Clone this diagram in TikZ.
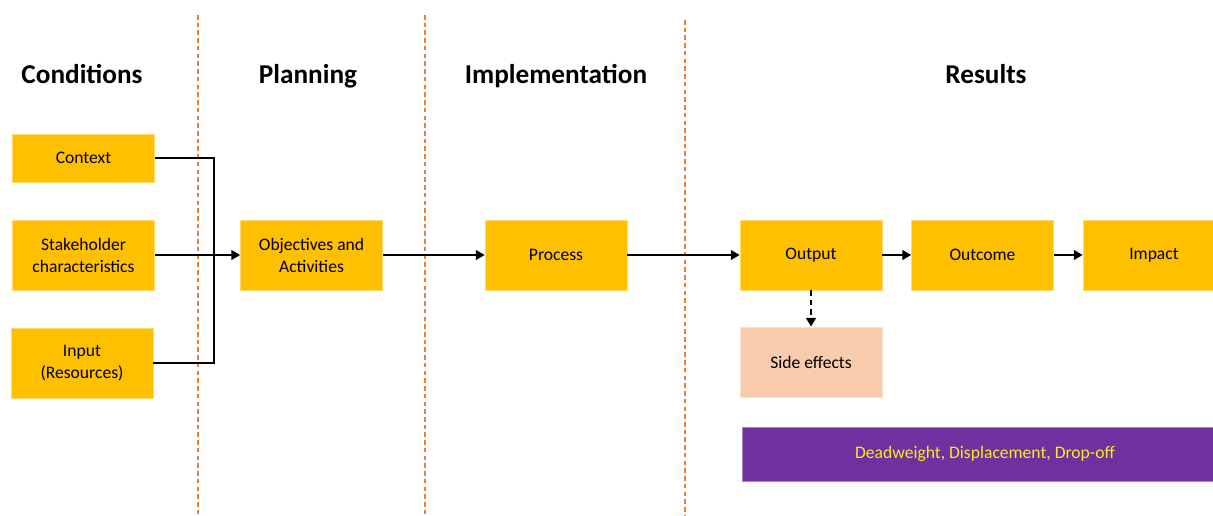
\documentclass[tikz,border=0pt]{standalone}
\usepackage{fontspec}
\setmainfont{Carlito}
\usetikzlibrary{arrows.meta}
\definecolor{boxyellow}{RGB}{255,192,0}
\definecolor{sidepeach}{RGB}{248,203,173}
\definecolor{barpurple}{RGB}{112,48,160}
\definecolor{lineorange}{RGB}{237,125,49}
\definecolor{textyellow}{RGB}{250,235,30}
\begin{document}
\begin{tikzpicture}[x=0.02cm,y=-0.02cm,
		box/.style={fill=boxyellow,draw=boxyellow!55!white,line width=0.4pt,minimum width=2.84cm,minimum height=1.4cm,align=center,inner sep=1pt,font=\fontsize{10}{12.5}\selectfont},
		head/.style={font=\fontsize{15.5}{18}\selectfont\bfseries,text height=0.7em,text depth=0.22em},
		sep/.style={lineorange,line width=0.8pt,dash pattern=on 2.6pt off 1.8pt},
		link/.style={line width=1.1pt,-{Triangle[length=5pt,width=5.5pt]}}]
	\useasboundingbox (0,0) rectangle (1213,515);
	% phase separators
	\draw[sep] (198,15)--(198,515);
	\draw[sep] (425,15)--(425,515);
	\draw[sep] (685,20)--(685,515);
	% phase titles
	\node[head] (hcond) at (82,79) {Conditions};
	\node[head] (hplan) at (308,79) {Planning};
	\node[head] (himpl) at (556,79) {Implementation};
	\node[head] (hres) at (986,79) {Results};
	% boxes
	\node[box,minimum height=0.96cm] (ctx) at (83.5,158) {Context};
	\node[box] (stake) at (83.5,255) {Stakeholder\\characteristics};
	\node[box] (input) at (82,363) {Input\\(Resources)};
	\node[box] (obj) at (311.5,255) {Objectives and\\Activities};
	\node[box] (proc) at (556,255) {Process};
	\node[box] (out) at (811,255) {Output};
	\node[box] (outc) at (982.5,255) {Outcome};
	\node[box] (imp) at (1154,255) {Impact};
	\node[box,fill=sidepeach,draw=sidepeach!60!white] (side) at (811,362) {Side effects};
	\node[box,fill=barpurple,draw=barpurple!60!white,minimum width=9.7cm,minimum height=1.08cm,text=textyellow] (ddd) at (985,454) {Deadweight, Displacement, Drop-off};
	% connectors
	\coordinate (jn) at (214,255);
	\draw[line width=1.1pt] (ctx.east) -| (jn);
	\draw[line width=1.1pt] (input.east) -| (jn);
	\draw[link] (stake.east)--(obj.west);
	\draw[link] (obj.east)--(proc.west);
	\draw[link] (proc.east)--(out.west);
	\draw[link] (out.east)--(outc.west);
	\draw[link] (outc.east)--(imp.west);
	\draw[link,line width=1.3pt,dash pattern=on 3.2pt off 2.2pt] (out.south)--(side.north);
\end{tikzpicture}
\end{document}
